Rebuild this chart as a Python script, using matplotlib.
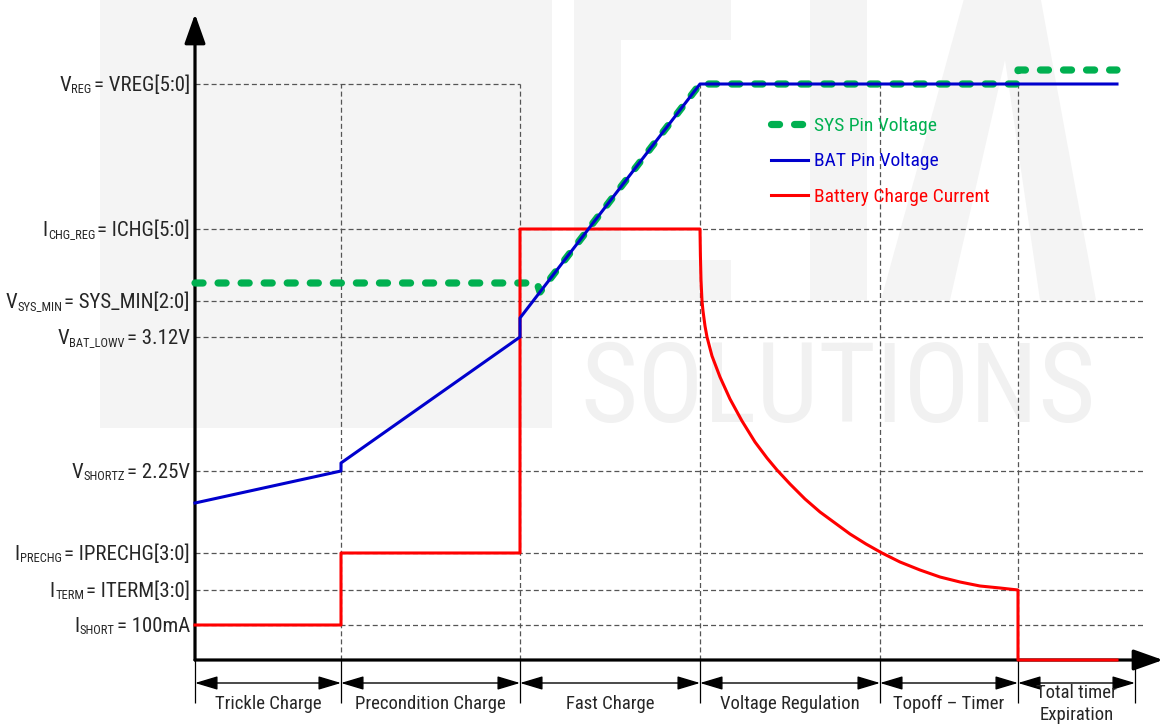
import matplotlib
matplotlib.use("Agg")
import matplotlib.pyplot as plt
from matplotlib import font_manager
from matplotlib.patches import Rectangle, Polygon

plt.rcParams["lines.scale_dashes"] = False


def pick_font(names):
    for n in names:
        try:
            font_manager.findfont(font_manager.FontProperties(family=n),
                                  fallback_to_default=False)
            return n
        except ValueError:
            pass
    return "DejaVu Sans"


NARROW = pick_font(["Liberation Sans Narrow", "Roboto Condensed", "Liberation Sans"])
FAM = [NARROW, "DejaVu Sans"]

# ---- data -------------------------------------------------------------
# charge-phase boundaries along the time axis (origin = 0)
phase_edges = [0, 146, 325, 505, 685, 823, 940]
phase_names = ["Trickle Charge", "Precondition Charge", "Fast Charge",
               "Voltage Regulation", "Topoff \u2013 Timer", "Total timer\nExpiration"]

# reference levels marked on the vertical axis
level_main = ["V", "I", "V", "V", "V", "I", "I", "I"]
level_sub = ["REG", "CHG_REG", "SYS_MIN", "BAT_LOWV", "SHORTZ", "PRECHG", "TERM", "SHORT"]
level_rest = ["= VREG[5:0]", "= ICHG[5:0]", "= SYS_MIN[2:0]", "= 3.12V",
              "= 2.25V", "= IPRECHG[3:0]", "= ITERM[3:0]", "= 100mA"]
level_vals = [576, 431, 359, 323, 189, 107, 70, 35]

# BAT pin voltage
bat_t = [0, 146, 146, 325, 325, 505, 922]
bat_v = [157, 189, 197, 323, 342, 576, 576]

# SYS pin voltage
sys_t = [0, 342, 345, 505, 823, 823, 922]
sys_v = [377, 377, 368, 576, 576, 590, 590]

# battery charge current
chg_t = [0, 146, 146, 325, 325, 505,
         505, 505.4, 506, 507, 508, 510, 512, 517, 525, 535, 547, 560, 572, 582,
         595, 610, 625, 640, 655, 671, 687, 705, 725, 745, 765, 785, 805, 823,
         823, 922]
chg_i = [35, 35, 107, 107, 431, 431,
         431, 405, 380, 359, 349, 334, 323, 304, 283, 261, 239, 218, 202, 190,
         176, 161, 148, 137, 126, 116, 107, 98, 90, 83, 78, 74, 72, 70,
         0, 0]

GREEN = "#00b050"
BLUE = "#0000cd"
RED = "#ff0000"
TXT = "#262626"
GRID = "#555555"
MARK = "#f4f4f4"

# ---- figure -----------------------------------------------------------
W, H = 1164, 727
fig = plt.figure(figsize=(W / 100, H / 100), dpi=100)
ax = fig.add_axes([0, 0, 1, 1])
X0, Y0 = 195, 660           # origin position
ax.set_xlim(-X0, W - X0)
ax.set_ylim(Y0 - H, Y0)
ax.axis("off")

# faint background logo
ax.add_patch(Rectangle((100 - X0, Y0 - 428), 452, 440, color=MARK, lw=0, zorder=0))
for (x0, y0, w, h) in [(574, 0, 47, 300), (574, 0, 157, 40), (574, 260, 157, 40),
                       (810, 0, 57, 300)]:
    ax.add_patch(Rectangle((x0 - X0, Y0 - y0 - h), w, h, color=MARK, lw=0, zorder=0))
ax.add_patch(Polygon([(881 - X0, Y0 - 300), (965 - X0, Y0 + 5), (1040 - X0, Y0 + 5),
                      (1096 - X0, Y0 - 300), (1040 - X0, Y0 - 300), (1005 - X0, Y0 - 60),
                      (950 - X0, Y0 - 300)], closed=True, color=MARK, lw=0, zorder=0))
r = fig.canvas.get_renderer()
wm = ax.text(580 - X0, Y0 - 422, "SOLUTIONS", fontsize=100, family=FAM,
             color="#f1f1f1", ha="left", va="baseline", zorder=0)
wm.set_fontsize(100 * 516 / wm.get_window_extent(r).width)

# dashed guide lines
grid_kw = dict(color=GRID, lw=0.9, linestyle=(0, (3.6, 2.2)), zorder=1)
ax.hlines(level_vals[0], 0, bat_t[-3], **grid_kw)
ax.hlines(level_vals[1:], 0, 950, **grid_kw)
ax.vlines(phase_edges[1:6], 0, level_vals[0], **grid_kw)

# main axes with arrow heads
ax_kw = dict(arrowstyle="-|>,head_length=0.9,head_width=0.32", mutation_scale=20,
             lw=2.3, color="black", shrinkA=0, shrinkB=0)
ax.annotate("", xy=(0, 646), xytext=(0, 0), arrowprops=ax_kw, zorder=3)
ax.annotate("", xy=(968, 0), xytext=(0, 0), arrowprops=ax_kw, zorder=3)

# curves
l_sys, = ax.plot(sys_t, sys_v, color=GREEN, lw=5.2, linestyle=(0, (5.8, 10.8)),
                 dash_capstyle="round", zorder=4, label="SYS Pin Voltage")
l_chg, = ax.plot(chg_t, chg_i, color=RED, lw=2.2, zorder=5,
                 label="Battery Charge Current")
l_bat, = ax.plot(bat_t, bat_v, color=BLUE, lw=2.2, zorder=6, label="BAT Pin Voltage")

ax.legend(handles=[l_sys, l_bat, l_chg], loc="upper left",
          bbox_to_anchor=(771 / W, 1 - 117 / H), bbox_transform=fig.transFigure,
          frameon=False, prop={"family": FAM, "size": 14},
          handlelength=1.9, handletextpad=0.3, labelspacing=0.9,
          borderpad=0, borderaxespad=0, labelcolor="linecolor")

# vertical-axis level labels: main letter, subscript, value
FS = 15
cap = 0.69 * FS * 100 / 72
for m, s, rest, y in zip(level_main, level_sub, level_rest, level_vals):
    base = y - cap / 2
    x = -5
    t = ax.text(x, base, rest, fontsize=FS, family=FAM, color=TXT,
                ha="right", va="baseline")
    x -= t.get_window_extent(r).width + 2
    t = ax.text(x, base - 2, s, fontsize=9, family=FAM, color=TXT,
                ha="right", va="baseline")
    x -= t.get_window_extent(r).width + 0.5
    ax.text(x, base, m, fontsize=FS, family=FAM, color=TXT, ha="right", va="baseline")

# phase annotations under the time axis
ay = -23
for i, (a, b) in enumerate(zip(phase_edges[:-1], phase_edges[1:])):
    ax.annotate("", xy=(b, ay), xytext=(a, ay),
                arrowprops=dict(arrowstyle="<|-|>,head_length=1.4,head_width=0.42",
                                mutation_scale=10, lw=1, color="black",
                                shrinkA=0, shrinkB=0))
    ax.text((a + b) / 2, -44, phase_names[i], fontsize=13.5, family=FAM, color=TXT,
            ha="center", va="center", linespacing=1.3)
ax.vlines(phase_edges, -43, 0, color="black", lw=0.9, zorder=2)

fig.savefig("out.png", dpi=100)
